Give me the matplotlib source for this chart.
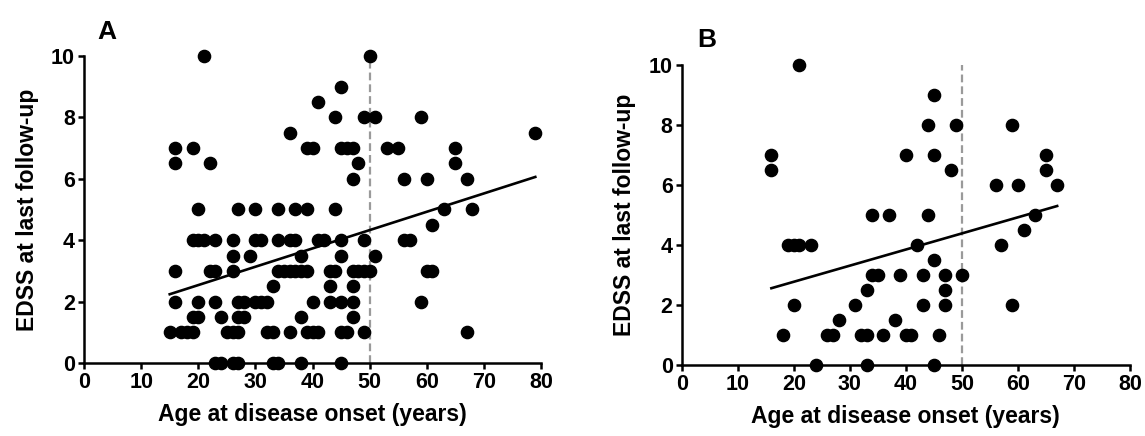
import numpy as np
import matplotlib
matplotlib.use("Agg")
import matplotlib.pyplot as plt

plt.rcParams['font.family'] = ['Liberation Sans', 'DejaVu Sans']
plt.rcParams['font.weight'] = 'bold'

# Panel A: (EDSS value, ages at onset with that value)
a_rows = {
    10: [21, 50],
    9: [45],
    8.5: [41],
    8: [44, 49, 51, 59],
    7.5: [36, 79],
    7: [16, 19, 39, 40, 45, 46, 47, 53, 55, 65],
    6.5: [16, 22, 48, 65],
    6: [47, 56, 60, 67],
    5: [20, 27, 30, 34, 37, 39, 44, 63, 68],
    4.5: [61],
    4: [19, 20, 21, 23, 26, 30, 31, 34, 36, 37, 41, 42, 45, 49, 56, 57],
    3.5: [26, 29, 38, 45, 51],
    3: [16, 22, 23, 26, 34, 35, 36, 37, 38, 39, 43, 44, 47, 48, 49, 50, 60, 61],
    2.5: [33, 43, 47],
    2: [16, 20, 23, 27, 28, 30, 31, 32, 40, 43, 45, 47, 59],
    1.5: [19, 20, 24, 27, 28, 38, 47],
    1: [15, 17, 18, 19, 25, 26, 27, 32, 33, 36, 39, 40, 41, 45, 46, 49, 67],
    0: [23, 24, 26, 27, 33, 34, 38, 45],
}

# Panel B
b_rows = {
    10: [21],
    9: [45],
    8: [44, 49, 59],
    7: [16, 40, 45, 65],
    6.5: [16, 48, 65],
    6: [56, 60, 67],
    5: [34, 37, 44, 63],
    4.5: [61],
    4: [19, 20, 21, 23, 42, 57],
    3.5: [45],
    3: [34, 35, 39, 43, 47, 50],
    2.5: [33, 47],
    2: [20, 31, 43, 47, 59],
    1.5: [28, 38],
    1: [18, 26, 27, 32, 33, 36, 40, 41, 46],
    0: [24, 33, 45],
}

# regression lines (age, EDSS)
fit_a_x = [15, 79]
fit_a_y = [2.24, 6.06]
fit_b_x = [16, 67]
fit_b_y = [2.56, 5.30]

x_ticks = [0, 10, 20, 30, 40, 50, 60, 70, 80]
y_ticks = [0, 2, 4, 6, 8, 10]
cutoff_age = 50


def flatten(rows):
    ages, edss = [], []
    for val, lst in rows.items():
        ages += lst
        edss += [val] * len(lst)
    return np.array(ages), np.array(edss)


def draw_panel(ax, rows, fx, fy):
    ages, edss = flatten(rows)
    ax.axvline(cutoff_age, color='#9a9a9a', ls=(0, (3.5, 1.8)), lw=1.6, zorder=1, clip_on=False)
    ax.plot(ages, edss, 'o', color='black', markersize=8.8, zorder=3, clip_on=False)
    ax.plot(fx, fy, color='black', lw=1.9, zorder=2)
    ax.set_xlim(0, 80)
    ax.set_ylim(0, 10)
    ax.set_xticks(x_ticks)
    ax.set_yticks(y_ticks)
    for s in ['top', 'right']:
        ax.spines[s].set_visible(False)
    for s in ['left', 'bottom']:
        ax.spines[s].set_linewidth(1.8)
    ax.tick_params(width=1.8, length=4.5, labelsize=15.5, pad=2)
    ax.set_xlabel('Age at disease onset (years)', fontsize=16.5, fontweight='bold', labelpad=7)
    ax.set_ylabel('EDSS at last follow-up', fontsize=16.5, fontweight='bold', labelpad=9)


fig = plt.figure(figsize=(11.45, 4.36), dpi=100)
ax_a = fig.add_axes([0.0734, 0.1674, 0.3991, 0.7042])
ax_b = fig.add_axes([0.5954, 0.1628, 0.3915, 0.6881])

draw_panel(ax_a, a_rows, fit_a_x, fit_a_y)
draw_panel(ax_b, b_rows, fit_b_x, fit_b_y)

fig.text(107 / 1145, 1 - 32 / 436, 'A', fontsize=19, fontweight='bold', ha='center', va='center')
fig.text(707 / 1145, 1 - 40 / 436, 'B', fontsize=19, fontweight='bold', ha='center', va='center')

fig.savefig('out.png', dpi=100)
